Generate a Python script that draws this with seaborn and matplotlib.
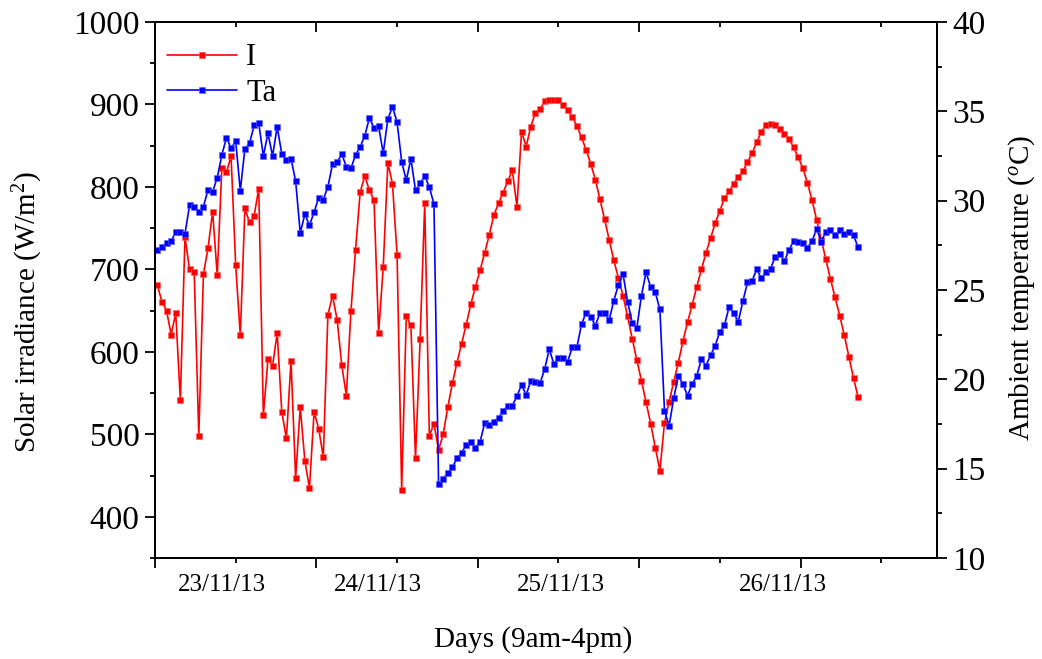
import numpy as np
import pandas as pd
import matplotlib
matplotlib.use("Agg")
import matplotlib.pyplot as plt
from matplotlib.ticker import MultipleLocator, NullFormatter
import seaborn as sns

# Solar irradiance I (W/m^2), one reading per sample, 23-26 Nov 2013, 9am-4pm
irradiance = [
    681, 661, 650, 621, 647, 541, 739, 700, 697, 498,
    694, 726, 770, 693, 823, 818, 837, 705, 620, 774,
    757, 765, 798, 523, 591, 583, 623, 527, 495, 589,
    447, 533, 468, 435, 527, 507, 472, 645, 668, 639,
    584, 547, 650, 724, 794, 813, 796, 784, 623, 703,
    829, 804, 718, 433, 643, 632, 471, 615, 780, 498,
    513, 481, 500, 533, 562, 587, 610, 633, 658, 679,
    699, 720, 742, 766, 780, 793, 807, 820, 776, 867,
    849, 873, 890, 894, 904, 906, 906, 905, 899, 893,
    885, 874, 860, 845, 828, 809, 785, 761, 736, 711,
    690, 668, 643, 616, 590, 565, 539, 513, 484, 456,
    514, 539, 564, 587, 613, 636, 657, 679, 700, 720,
    738, 756, 771, 786, 795, 804, 812, 819, 830, 841,
    854, 867, 875, 876, 875, 870, 864, 858, 848, 836,
    823, 805, 784, 760, 736, 712, 688, 666, 644, 620,
    594, 568, 545,
]

# Ambient temperature Ta (deg C) for the same samples
ambient_temp = [
    27.24, 27.39, 27.65, 27.74, 28.25, 28.23, 28.15, 29.74, 29.67, 29.39,
    29.67, 30.60, 30.50, 31.29, 32.56, 33.53, 32.93, 33.34, 30.56, 32.91,
    33.21, 34.22, 34.33, 32.50, 33.77, 32.50, 34.14, 32.61, 32.28, 32.35,
    31.10, 28.19, 29.24, 28.62, 29.35, 30.17, 30.06, 30.78, 32.04, 32.15,
    32.61, 31.90, 31.81, 32.57, 33.00, 33.64, 34.63, 34.07, 34.16, 32.65,
    34.57, 35.24, 34.40, 32.18, 31.14, 32.35, 30.58, 30.97, 31.40, 30.75,
    29.82, 14.15, 14.43, 14.78, 15.08, 15.58, 15.90, 16.33, 16.51, 16.18,
    16.51, 17.54, 17.45, 17.63, 17.86, 18.23, 18.53, 18.53, 19.07, 19.69,
    19.13, 19.91, 19.87, 19.78, 20.56, 21.68, 20.88, 21.18, 21.18, 20.99,
    21.80, 21.80, 23.08, 23.73, 23.51, 23.01, 23.70, 23.70, 23.32, 24.40,
    25.28, 25.90, 24.35, 23.17, 22.88, 24.68, 25.99, 25.17, 24.87, 23.92,
    18.23, 17.41, 18.94, 20.19, 19.74, 19.09, 19.74, 20.19, 21.14, 20.77,
    21.35, 21.89, 22.67, 23.04, 24.03, 23.70, 23.23, 24.37, 25.43, 25.52,
    26.16, 25.66, 26.01, 26.20, 26.83, 27.02, 26.61, 27.24, 27.74, 27.71,
    27.65, 27.37, 27.74, 28.42, 27.71, 28.27, 28.36, 28.06, 28.36, 28.14,
    28.23, 28.06, 27.39,
]

day_labels = ["23/11/13", "24/11/13", "25/11/13", "26/11/13"]
day_label_x = [14.5, 48.4, 88.0, 136.2]

sns.set_style("ticks")
plt.rcParams["font.family"] = ["Liberation Serif", "DejaVu Serif"]
plt.rcParams["mathtext.fontset"] = "custom"
plt.rcParams["mathtext.rm"] = "Liberation Serif"
plt.rcParams["mathtext.it"] = "Liberation Serif:italic"
plt.rcParams["axes.linewidth"] = 1.4
for key in ("text.color", "axes.labelcolor", "xtick.color", "ytick.color",
            "axes.edgecolor"):
    plt.rcParams[key] = "black"

n = len(irradiance)
df = pd.DataFrame({
    "sample": np.arange(n) + 0.5,
    "I": irradiance,
    "Ta": ambient_temp,
})

fig = plt.figure(figsize=(10.42, 6.59), dpi=100)
ax = fig.add_axes([155 / 1042, 1 - 558 / 659, 782 / 1042, 536 / 659])
ax2 = ax.twinx()

line_kw = dict(marker="s", markersize=4.4, markeredgewidth=0.4, linewidth=1.2)
sns.lineplot(data=df, x="sample", y="I", ax=ax, color="#ff0000",
             markeredgecolor="#ff6060", label="I", legend=False, **line_kw)
sns.lineplot(data=df, x="sample", y="Ta", ax=ax2, color="#0000ff",
             markeredgecolor="#6060ff", label="Ta", legend=False, **line_kw)

# axis ranges and ticks
ax.set_xlim(0, 169.6)
ax.set_ylim(350, 1000)
ax2.set_ylim(10, 40)

ax.xaxis.set_major_locator(MultipleLocator(35))
ax.xaxis.set_minor_locator(MultipleLocator(17.5))
ax.xaxis.set_major_formatter(NullFormatter())
ax.yaxis.set_major_locator(MultipleLocator(100))
ax.yaxis.set_minor_locator(MultipleLocator(50))
ax2.yaxis.set_major_locator(MultipleLocator(5))
ax2.yaxis.set_minor_locator(MultipleLocator(2.5))

tick_font = 24
for a in (ax, ax2):
    a.tick_params(which="major", length=7, width=1.3, direction="out",
                  labelsize=tick_font, pad=4, colors="black")
    a.tick_params(which="minor", length=3.5, width=1.3, direction="out",
                  colors="black")
    a.set_xlabel("")
    a.set_ylabel("")

# mirrored ticks along the top edge, pointing inwards
top = ax.secondary_xaxis("top")
top.xaxis.set_major_locator(MultipleLocator(35))
top.xaxis.set_minor_locator(MultipleLocator(17.5))
top.xaxis.set_major_formatter(NullFormatter())
top.tick_params(which="major", direction="in", length=7, width=1.3)
top.tick_params(which="minor", direction="in", length=3.5, width=1.3)

for a in (ax, ax2):
    for s in a.spines.values():
        s.set_visible(True)
        s.set_color("black")
        s.set_linewidth(1.4)

# day labels under the x axis
for lbl, xc in zip(day_labels, day_label_x):
    ax.text(xc, -0.05, lbl, transform=ax.get_xaxis_transform(),
            ha="center", va="center", fontsize=18, color="black")

fig.text(533 / 1042, 1 - 640 / 659, "Days (9am-4pm)", ha="center", va="center",
         fontsize=21, color="black")
fig.text(28 / 1042, 1 - 312 / 659, "Solar irradiance (W/m$^2$)", rotation=90,
         ha="center", va="center", fontsize=21, color="black")
fig.text(1022 / 1042, 1 - 288 / 659, "Ambient temperature ($^o$C)", rotation=90,
         ha="center", va="center", fontsize=21, color="black")

handles = ax.get_lines()[:1] + ax2.get_lines()[:1]
ax.legend(handles, ["I", "Ta"], loc="upper left",
          bbox_to_anchor=(0.015, 0.96), frameon=False, fontsize=22,
          handlelength=2.3, handletextpad=0.3, labelspacing=0.2,
          borderpad=0, borderaxespad=0, numpoints=1, labelcolor="black")

fig.savefig("out.png", dpi=100)
